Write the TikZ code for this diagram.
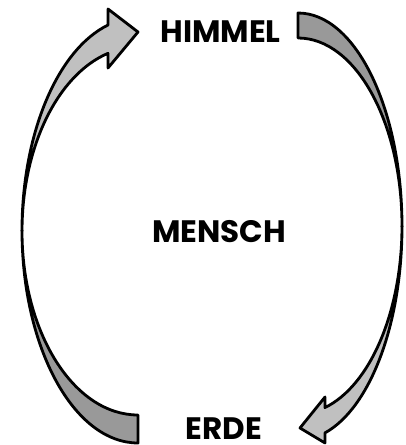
\documentclass[tikz,border=0pt]{standalone}
\usepackage{fontspec}
\setmainfont{Poppins}
\begin{document}
\begin{tikzpicture}[x=1pt,y=1pt,
  arrowpart/.style={draw=black,line width=2.8pt,line join=round},
  lbl/.style={font=\fontsize{31}{31}\selectfont\bfseries,inner sep=0pt,anchor=base}]
\useasboundingbox (0,0) rectangle (406,445);
\definecolor{lightg}{HTML}{C0C0C0}
\definecolor{darkg}{HTML}{999999}
% left arrow: dark lower part (tail)
\draw[arrowpart,fill=darkg] (22,214.6) arc[start angle=180,end angle=270,x radius=116,y radius=212.6]
  -- (138,30) arc[start angle=270,end angle=180,x radius=116,y radius=184] -- cycle;
% left arrow: light upper part with head
\draw[arrowpart,fill=lightg] (22,214.6) arc[start angle=180,end angle=105,x radius=116,y radius=212.6]
  -- (108,436) -- (138,413) -- (108,377) -- (108,391.7)
  arc[start angle=105,end angle=180,x radius=116,y radius=184] -- cycle;
% right arrow: dark upper part (tail)
\draw[arrowpart,fill=darkg] (298,432) arc[start angle=90,end angle=0,x radius=104,y radius=213.6]
  -- (402,219) arc[start angle=0,end angle=90,x radius=104,y radius=188] -- cycle;
% right arrow: light lower part with head
\draw[arrowpart,fill=lightg] (402,218.4) arc[start angle=0,end angle=-75,x radius=104,y radius=213.6]
  -- (325,2) -- (300,17) -- (325,48) -- (324.9,37.4)
  arc[start angle=-75,end angle=0,x radius=104,y radius=188] -- cycle;
\node[lbl] (himmel) at (220.5,402.5) {HIMMEL};
\node[lbl] (mensch) at (219,202.5) {MENSCH};
\node[lbl] (erde) at (224,5.5) {ERDE};
\end{tikzpicture}
\end{document}
